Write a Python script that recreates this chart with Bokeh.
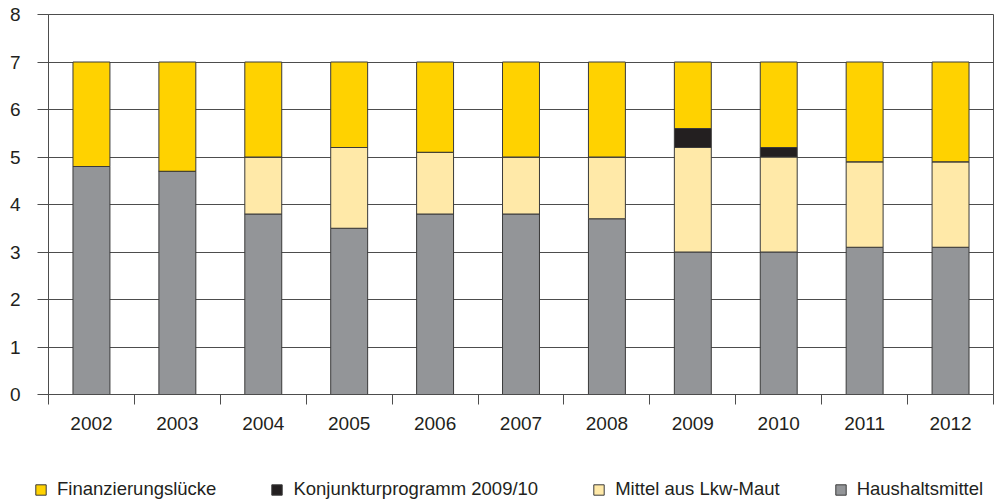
from bokeh.plotting import figure
from bokeh.layouts import column
from bokeh.models import ColumnDataSource, FixedTicker, Legend, LegendItem, Range1d
from bokeh.embed import file_html
from bokeh.resources import INLINE

# Funding of federal trunk roads, billion EUR per year
years = ["2002", "2003", "2004", "2005", "2006", "2007", "2008", "2009", "2010", "2011", "2012"]
haushaltsmittel = [4.8, 4.7, 3.8, 3.5, 3.8, 3.8, 3.7, 3.0, 3.0, 3.1, 3.1]
lkw_maut = [0.0, 0.0, 1.2, 1.7, 1.3, 1.2, 1.3, 2.2, 2.0, 1.8, 1.8]
konjunktur = [0.0, 0.0, 0.0, 0.0, 0.0, 0.0, 0.0, 0.4, 0.2, 0.0, 0.0]
luecke = [2.2, 2.3, 2.0, 1.8, 1.9, 2.0, 2.0, 1.4, 1.8, 2.1, 2.1]
y_ticks = [0, 1, 2, 3, 4, 5, 6, 7, 8]

series = ["haus", "maut", "konj", "luecke"]
legend_order = ["luecke", "konj", "maut", "haus"]
labels = {
    "luecke": "Finanzierungslücke",
    "konj": "Konjunkturprogramm 2009/10",
    "maut": "Mittel aus Lkw-Maut",
    "haus": "Haushaltsmittel",
}
colors = {
    "haus": "#939598",
    "maut": "#FFE9A8",
    "konj": "#231F20",
    "luecke": "#FFD200",
}

xs = [i + 0.5 for i in range(len(years))]
source = ColumnDataSource(dict(x=xs, haus=haushaltsmittel, maut=lkw_maut,
                               konj=konjunktur, luecke=luecke))

FONT = "Liberation Sans"
FS = "19px"
TEXT = "#231F20"
LINE = "#4d4d4d"
BAR_EDGE = "#3a3a3a"

p = figure(width=996, height=445, output_backend="svg", toolbar_location=None,
           x_range=Range1d(0, len(years)), y_range=Range1d(0, 8),
           min_border_left=48, min_border_right=3, min_border_top=14,
           min_border_bottom=51)
p.frame_align = False
p.background_fill_color = "white"
p.border_fill_color = "white"
p.outline_line_color = LINE
p.outline_line_width = 1

p.vbar_stack(series, x="x", width=0.43, source=source,
             fill_color=[colors[s] for s in series],
             line_color=BAR_EDGE, line_width=1)

# y axis
yax = p.yaxis[0]
yax.ticker = FixedTicker(ticks=y_ticks)
yax.axis_line_color = LINE
yax.major_tick_line_color = LINE
yax.major_tick_out = 11
yax.major_tick_in = 0
yax.minor_tick_line_color = None
yax.major_label_standoff = 17
yax.major_label_text_font = FONT
yax.major_label_text_font_size = FS
yax.major_label_text_color = TEXT

# x axis: year labels in the middle of each slot, separators between slots
xax = p.xaxis[0]
xax.ticker = FixedTicker(ticks=xs, minor_ticks=list(range(len(years) + 1)))
xax.major_label_overrides = {x: y for x, y in zip(xs, years)}
xax.axis_line_color = LINE
xax.major_tick_line_color = None
xax.major_tick_out = 0
xax.major_tick_in = 0
xax.minor_tick_line_color = LINE
xax.minor_tick_out = 10
xax.minor_tick_in = 0
xax.major_label_standoff = 12
xax.major_label_text_font = FONT
xax.major_label_text_font_size = FS
xax.major_label_text_color = TEXT

p.xgrid.grid_line_color = None
p.ygrid.ticker = FixedTicker(ticks=y_ticks)
p.ygrid.grid_line_color = LINE
p.ygrid.grid_line_width = 1

# legend strip underneath the chart
lg = figure(width=996, height=59, output_backend="svg", toolbar_location=None,
            x_range=Range1d(0, 1), y_range=Range1d(0, 1),
            min_border_left=0, min_border_right=0, min_border_top=0,
            min_border_bottom=0)
lg.frame_align = False
lg.axis.visible = False
lg.grid.visible = False
lg.outline_line_color = None
lg.background_fill_color = "white"
lg.border_fill_color = "white"

items = []
for s in legend_order:
    # swatch-only renderer, its single bar lies outside the visible range
    r = lg.vbar(x=[-5], top=[0], width=0.1, fill_color=colors[s],
                line_color=BAR_EDGE, line_width=1)
    items.append(LegendItem(label=labels[s], renderers=[r]))

legend = Legend(
    items=items,
    orientation="horizontal",
    location=(34, 4),
    glyph_width=13, glyph_height=13,
    label_standoff=10, spacing=54,
    padding=0, margin=0,
    label_text_font=FONT, label_text_font_size="18.5px",
    label_text_color=TEXT, label_height=20,
    border_line_color=None, background_fill_alpha=0,
)
lg.add_layout(legend, "center")

layout = column(p, lg, spacing=0)
open("out.html", "w").write(file_html(layout, INLINE))
